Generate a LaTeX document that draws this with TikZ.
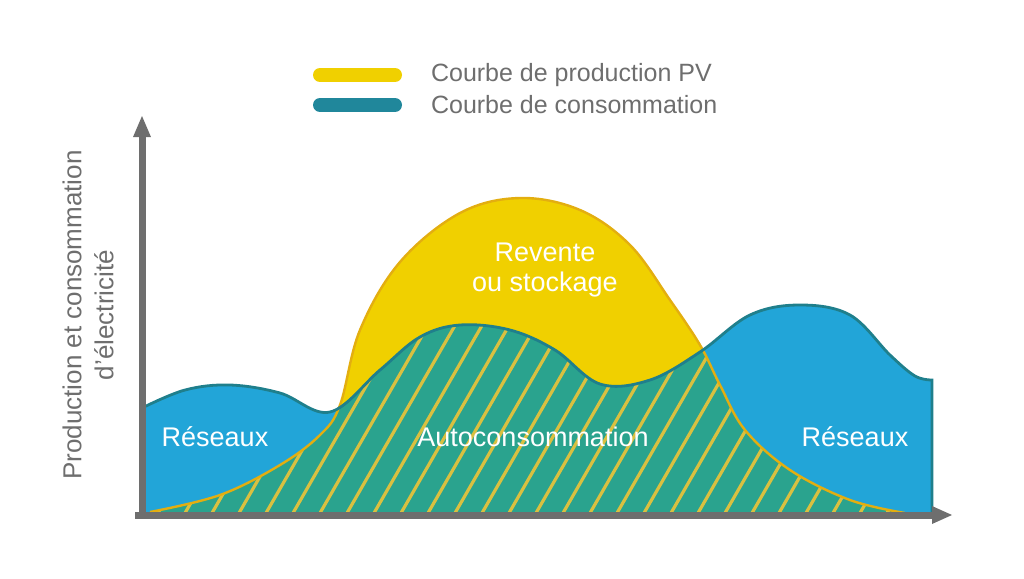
\documentclass[tikz,border=0pt]{standalone}
\usepackage{fontspec}
\setmainfont{Liberation Sans}
\definecolor{cblue}{HTML}{22A5D8}
\definecolor{cline}{HTML}{1F7F8C}
\definecolor{pvy}{HTML}{F0D000}
\definecolor{pvl}{HTML}{E3AE10}
\definecolor{green}{HTML}{2AA38E}
\definecolor{stripe}{HTML}{D9C040}
\definecolor{axisg}{HTML}{6E6E6E}
\begin{document}
\begin{tikzpicture}[x=0.5pt,y=-0.5pt,
  lbl/.style={text=white,font=\fontsize{13.5}{15}\selectfont},
  legtxt/.style={text=axisg,font=\fontsize{12.5}{14}\selectfont,anchor=west}]
\useasboundingbox (0,0) rectangle (1024,579);
\def\C{(142,513) -- plot[smooth,tension=0.6] coordinates{(142,408)(185,390)(230,385)(280,393)(330,412)(380,370)(420,337)(460,325)(510,330)(555,350)(600,384)(650,380)(700,352)(750,315)(800,305)(850,315)(890,355)(915,376)(932,380)} -- (932,513) -- cycle}
\def\P{(150,513) -- plot[smooth,tension=0.6] coordinates{(150,512)(220,495)(280,465)(320,435)(340,405)(360,330)(400,262)(460,213)(520,198)(580,210)(630,245)(670,300)(700,345)(720,385)(745,430)(790,470)(850,500)(905,513)} -- cycle}
\edef\tmp{\noexpand\fill[cblue] \C;}\tmp
\edef\tmp{\noexpand\fill[pvy] \P;}\tmp
\begin{scope}
\edef\tmp{\noexpand\clip \C;}\tmp
\edef\tmp{\noexpand\fill[green] \P;}\tmp
\edef\tmp{\noexpand\clip \P;}\tmp
\foreach \i in {0,...,40}{
  \draw[stripe,line width=1.6pt] ({100+27*\i},520) -- ({100+27*\i+190},190);
}
\end{scope}
\draw[pvl,line width=1.2pt] plot[smooth,tension=0.6] coordinates{(150,512)(220,495)(280,465)(320,435)(340,405)(360,330)(400,262)(460,213)(520,198)(580,210)(630,245)(670,300)(700,345)(720,385)(745,430)(790,470)(850,500)(905,513)};
\draw[cline,line width=1.4pt] plot[smooth,tension=0.6] coordinates{(142,408)(185,390)(230,385)(280,393)(330,412)(380,370)(420,337)(460,325)(510,330)(555,350)(600,384)(650,380)(700,352)(750,315)(800,305)(850,315)(890,355)(915,376)(932,380)} -- (932,513);
% axes
\draw[axisg,line width=3.5pt] (142,515) -- (142,135);
\fill[axisg] (142,116) -- (133,137) -- (151,137) -- cycle;
\draw[axisg,line width=3.5pt] (135,515) -- (935,515);
\fill[axisg] (952,515) -- (932,506) -- (932,524) -- cycle;
% labels
\node[lbl,align=center] (rv) at (545,270) {Revente\\ou stockage};
\node[lbl] (ac) at (533,437) {Autoconsommation};
\node[lbl] (r1) at (215,437) {Réseaux};
\node[lbl] (r2) at (855,437) {Réseaux};
\node[rotate=90,align=center,text=axisg,font=\fontsize{13}{16}\selectfont] (yl) at (88,315) {Production et consommation\\d'électricité};
% legend
\draw[pvy,line width=7pt,line cap=round] (320,75) -- (395,75);
\draw[cline!80!cblue,line width=7pt,line cap=round] (320,105) -- (395,105);
\node[legtxt] (l1) at (424,75) {Courbe de production PV};
\node[legtxt] (l2) at (424,105) {Courbe de consommation};
\end{tikzpicture}
\end{document}
